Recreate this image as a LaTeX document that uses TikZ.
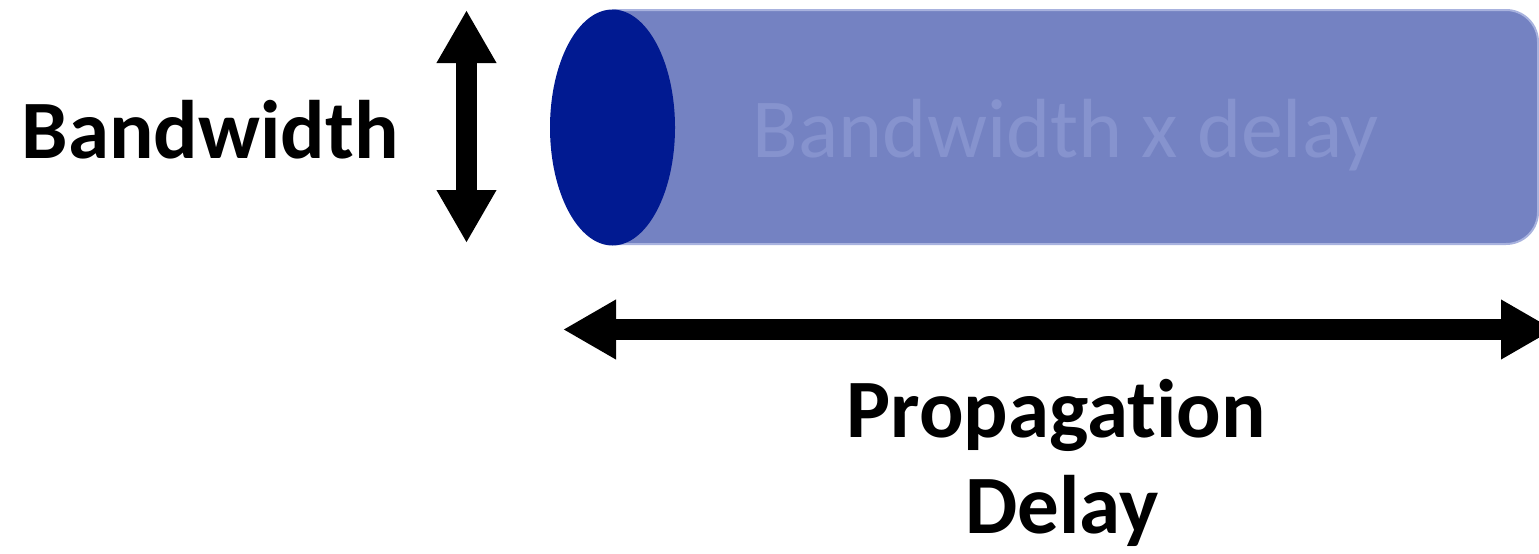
\documentclass[tikz,border=0pt]{standalone}
\usepackage{fontspec}
\setmainfont[Ligatures=NoCommon]{Carlito}
\usetikzlibrary{arrows.meta,shapes.geometric}
\definecolor{pipe}{RGB}{116,130,194}
\definecolor{pipeedge}{RGB}{168,178,222}
\definecolor{pipeend}{RGB}{1,26,145}
\definecolor{pipetext}{RGB}{134,147,206}
\tikzset{
  biglabel/.style={anchor=base, inner sep=0pt, font=\fontsize{83}{96}\selectfont\bfseries},
  pipelabel/.style={anchor=base, inner sep=0pt, text=pipetext, font=\fontsize{84}{96}\selectfont},
  dimarrow/.style={line width=21pt, {Triangle[length=53pt,width=56pt]}-{Triangle[length=53pt,width=56pt]}}
}
\begin{document}
\begin{tikzpicture}[x=1pt,y=-1pt]
\useasboundingbox (0,0) rectangle (1539,554);
\clip (0,0) rectangle (1539,554);
% pipe body
\draw[pipeedge, fill=pipe, line width=2pt, rounded corners=32pt]
  (612,10) -- (1538,10) -- (1538,244) -- (612,244);
\node[ellipse, fill=pipeend, minimum width=125pt, minimum height=236pt, inner sep=0pt] (pipeend) at (612.5,127.5) {};
\node[pipelabel] (inner) at (1066,157) {Bandwidth x delay};
% labels
\node[biglabel] (bw) at (210,158) {Bandwidth};
\node[biglabel] (prop) at (1056,437) {Propagation};
\node[biglabel] (delay) at (1062,533) {Delay};
% arrows
\coordinate (vtop) at (466.5,10);
\coordinate (vbot) at (466.5,243);
\coordinate (hleft) at (563,329.5);
\coordinate (hright) at (1554,329.5);
\draw[dimarrow] (vtop) -- (vbot);
\draw[dimarrow] (hleft) -- (hright);
\end{tikzpicture}
\end{document}
